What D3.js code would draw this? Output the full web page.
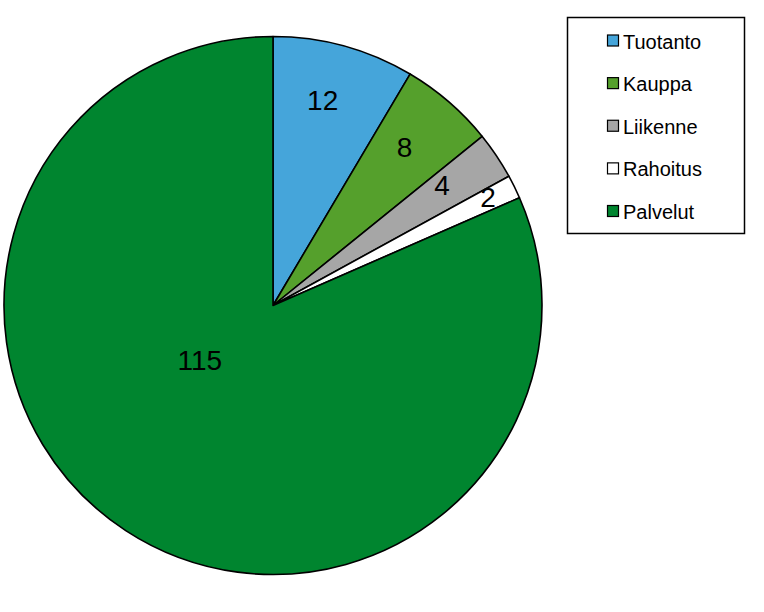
<!DOCTYPE html>
<html><head><meta charset="utf-8">
<script src="https://cdn.jsdelivr.net/npm/d3@7/dist/d3.min.js"></script>
<style>body{margin:0;background:#fff;}svg{display:block;font-family:"Liberation Sans",Arial,sans-serif;}</style>
</head><body><svg id="c" width="764" height="612"></svg>
<script>
const categories = ["Tuotanto","Kauppa","Liikenne","Rahoitus","Palvelut"];
const values = [12, 8, 4, 2, 115];
const colors = ["#45a5da","#55a02c","#a6a6a6","#ffffff","#00852f"];

const svg = d3.select("#c");
const cx = 273, cy = 305.5, R = 269;
const g = svg.append("g").attr("transform",`translate(${cx},${cy})`);
const pie = d3.pie().sort(null).value(d=>d)(values);
const arc = d3.arc().innerRadius(0).outerRadius(R);
g.selectAll("path").data(pie).join("path")
  .attr("d",arc).attr("fill",(d,i)=>colors[i])
  .attr("stroke","#000").attr("stroke-width",1.6).attr("stroke-linejoin","round");

// label placement (style): radius fraction and angle nudge per slice
const labR = [0.785,0.765,0.77,0.895,0.34];
const labDA = [-0.03,-0.02,-0.025,-0.01,0.35];
g.selectAll("text").data(pie).join("text")
  .attr("x",(d,i)=>{const a=(d.startAngle+d.endAngle)/2+labDA[i];return Math.sin(a)*R*labR[i];})
  .attr("y",(d,i)=>{const a=(d.startAngle+d.endAngle)/2+labDA[i];return -Math.cos(a)*R*labR[i];})
  .attr("text-anchor","middle").attr("dominant-baseline","central")
  .attr("font-size",28).attr("fill","#000").text((d,i)=>values[i]);

// legend
const lg = svg.append("g");
lg.append("rect").attr("x",567.5).attr("y",17.5).attr("width",177).attr("height",216)
  .attr("fill","#fff").attr("stroke","#000").attr("stroke-width",1.5);
const ly = d3.scalePoint().domain(categories).range([40.5,211]);
categories.forEach((c,i)=>{
  lg.append("rect").attr("x",607.5).attr("y",ly(c)-5.5).attr("width",11).attr("height",11)
    .attr("fill",colors[i]).attr("stroke","#000").attr("stroke-width",1.2);
  lg.append("text").attr("x",623).attr("y",ly(c)+1).attr("dominant-baseline","central")
    .attr("font-size",20).attr("fill","#000").text(c);
});
</script></body></html>
